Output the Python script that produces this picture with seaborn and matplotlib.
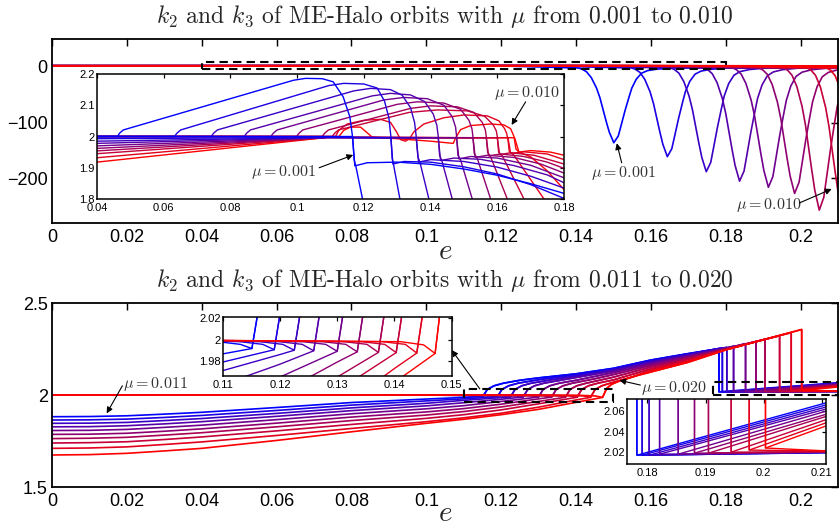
import matplotlib
matplotlib.use("Agg")
import matplotlib.pyplot as plt
from matplotlib.patches import Rectangle
from matplotlib.ticker import FixedLocator, FixedFormatter
import seaborn as sns

# ---------------------------------------------------------------- data
MU_TOP = [0.001, 0.002, 0.003, 0.004, 0.005, 0.006, 0.007, 0.008, 0.009, 0.010]
MU_BOT = [0.011, 0.012, 0.013, 0.014, 0.015, 0.016, 0.017, 0.018, 0.019, 0.020]

# top panel: k2 "hump" branch (e, k) down to the 1.8 crossing
TOP_HUMP = [
    [(0, 2.0), (0.0461, 2.0), (0.0468, 2.011), (0.0479, 2.021), (0.0989, 2.180), (0.1025, 2.186), (0.1075, 2.185),
     (0.1108, 2.175), (0.1138, 2.127), (0.1158, 2.063), (0.1166, 2.0), (0.1171, 1.925), (0.1176, 1.905), (0.1196, 1.80)],
    [(0, 2.0), (0.0632, 2.0), (0.0640, 2.011), (0.0651, 2.021), (0.1095, 2.163), (0.1140, 2.170), (0.1200, 2.168),
     (0.1240, 2.155), (0.1262, 2.113), (0.1275, 2.06), (0.1281, 2.0), (0.1285, 1.93), (0.1289, 1.91), (0.1308, 1.80)],
    [(0, 2.0), (0.0742, 2.0), (0.0750, 2.011), (0.0761, 2.021), (0.117, 2.146), (0.122, 2.154), (0.128, 2.150),
     (0.1315, 2.132), (0.1340, 2.092), (0.1352, 2.045), (0.1357, 2.0), (0.1362, 1.935), (0.1368, 1.918), (0.1395, 1.80)],
    [(0, 2.0), (0.0841, 2.0), (0.0849, 2.011), (0.0860, 2.021), (0.1225, 2.130), (0.128, 2.138), (0.134, 2.133),
     (0.1382, 2.112), (0.1408, 2.072), (0.1419, 2.035), (0.1423, 2.0), (0.1427, 1.94), (0.1434, 1.922), (0.1465, 1.80)],
    [(0, 2.0), (0.0921, 2.0), (0.0929, 2.011), (0.0940, 2.021), (0.126, 2.117), (0.132, 2.125), (0.139, 2.121),
     (0.1440, 2.100), (0.1465, 2.063), (0.1475, 2.03), (0.1478, 2.0), (0.1482, 1.94), (0.1490, 1.925), (0.1525, 1.80)],
    [(0, 2.0), (0.0998, 2.0), (0.1006, 2.011), (0.1017, 2.021), (0.1300, 2.103), (0.136, 2.111), (0.144, 2.107),
     (0.1490, 2.087), (0.1515, 2.052), (0.1524, 2.025), (0.1527, 2.0), (0.1531, 1.945), (0.1540, 1.93), (0.1580, 1.80)],
    [(0, 2.0), (0.1075, 2.0), (0.1083, 2.011), (0.1094, 2.021), (0.1340, 2.090), (0.140, 2.098), (0.148, 2.095),
     (0.1530, 2.077), (0.1555, 2.045), (0.1564, 2.022), (0.1567, 2.0), (0.1571, 1.95), (0.1580, 1.935), (0.1630, 1.80)],
    [(0, 2.0), (0.1105, 2.0), (0.1113, 2.011), (0.1124, 2.021), (0.1335, 2.077), (0.142, 2.085), (0.151, 2.082),
     (0.1562, 2.065), (0.1588, 2.037), (0.1597, 2.018), (0.1600, 2.0), (0.1604, 1.95), (0.1615, 1.938), (0.1680, 1.80)],
    [(0, 2.0), (0.1115, 2.0), (0.1125, 2.02), (0.1150, 2.040), (0.1200, 2.052), (0.1250, 2.055), (0.1280, 2.045),
     (0.1298, 2.015), (0.1310, 1.990), (0.1325, 1.985), (0.1338, 1.995), (0.1350, 2.015), (0.1380, 2.040),
     (0.1440, 2.060), (0.1500, 2.069), (0.1570, 2.066), (0.1605, 2.050), (0.1622, 2.025), (0.1628, 2.01),
     (0.1632, 1.99), (0.1636, 1.952), (0.1650, 1.94), (0.1740, 1.80)],
    [(0, 2.0), (0.1125, 2.0), (0.1140, 2.020), (0.1160, 2.030), (0.1190, 2.030), (0.1210, 2.012), (0.1225, 1.998),
     (0.1300, 1.993), (0.1400, 1.985), (0.1468, 1.978), (0.1475, 1.995), (0.1490, 2.022), (0.1520, 2.035),
     (0.1580, 2.040), (0.1620, 2.037), (0.1640, 2.025), (0.1650, 2.0), (0.1656, 1.96), (0.1665, 1.950),
     (0.1700, 1.935), (0.1750, 1.89), (0.1800, 1.83), (0.1830, 1.80)],
]

# top panel: deep valleys of the same branch (main axes scale)
TOP_VALLEY_E = [
    [0.1406, 0.1416, 0.1428, 0.1441, 0.1455, 0.1464, 0.1473, 0.1481, 0.1489, 0.1501, 0.1513, 0.1521, 0.1531, 0.1541, 0.1549, 0.1561, 0.1575, 0.1591, 0.1616, 0.1661, 0.215],
    [0.1549, 0.1559, 0.1571, 0.1584, 0.1598, 0.1607, 0.1616, 0.1624, 0.1632, 0.1644, 0.1656, 0.1664, 0.1674, 0.1684, 0.1692, 0.1704, 0.1718, 0.1734, 0.1759, 0.1804, 0.215],
    [0.1653, 0.1663, 0.1675, 0.1688, 0.1702, 0.1711, 0.1720, 0.1728, 0.1736, 0.1748, 0.1760, 0.1768, 0.1778, 0.1788, 0.1796, 0.1808, 0.1822, 0.1838, 0.1863, 0.1908, 0.215],
    [0.1742, 0.1752, 0.1764, 0.1777, 0.1791, 0.1800, 0.1809, 0.1817, 0.1825, 0.1837, 0.1849, 0.1857, 0.1867, 0.1877, 0.1885, 0.1897, 0.1911, 0.1927, 0.1952, 0.1997, 0.215],
    [0.1819, 0.1829, 0.1841, 0.1854, 0.1868, 0.1877, 0.1886, 0.1894, 0.1902, 0.1914, 0.1926, 0.1934, 0.1944, 0.1954, 0.1962, 0.1974, 0.1988, 0.2004, 0.2029, 0.2074, 0.215],
    [0.1889, 0.1899, 0.1911, 0.1924, 0.1938, 0.1947, 0.1956, 0.1964, 0.1972, 0.1984, 0.1996, 0.2004, 0.2014, 0.2024, 0.2032, 0.2044, 0.2058, 0.2074, 0.2099, 0.2144],
    [0.1955, 0.1965, 0.1977, 0.1990, 0.2004, 0.2013, 0.2022, 0.2030, 0.2038, 0.2050, 0.2062, 0.2070, 0.2080, 0.2090, 0.2098, 0.2110, 0.2124, 0.2140, 0.2165],
    [0.2018, 0.2028, 0.2040, 0.2053, 0.2067, 0.2076, 0.2085, 0.2093, 0.2101, 0.2113, 0.2125],
    [0.2070, 0.2080, 0.2092, 0.2105, 0.2119, 0.2128, 0.2137],
    [0.2120, 0.2130, 0.2142],
]
TOP_VALLEY_K = [
    [-2, -4, -8.7, -19.4, -38.2, -55.6, -78.4, -98.5, -117.2, -136, -123.9, -103.8, -78.4, -55.6, -38.2, -22.1, -11.4, -6.7, -4, -2, -2.5],
    [-2, -4.4, -10, -22.7, -44.9, -65.6, -92.6, -116.5, -138.7, -161, -146.7, -122.8, -92.6, -65.6, -44.9, -25.9, -13.1, -7.6, -4.4, -2, -2.5],
    [-2, -4.8, -11.3, -26.2, -52.2, -76.4, -108, -135.9, -162, -188, -171.3, -143.4, -108, -76.4, -52.2, -29.9, -15, -8.5, -4.8, -2, -2.5],
    [-2, -5, -12.2, -28.4, -56.8, -83.2, -117.7, -148.2, -176.6, -205, -186.7, -156.3, -117.7, -83.2, -56.8, -32.5, -16.2, -9.1, -5, -2, -2.5],
    [-2, -5.2, -12.7, -29.8, -59.8, -87.6, -124, -156.1, -186, -216, -196.7, -164.6, -124, -87.6, -59.8, -34.1, -17, -9.5, -5.2, -2, -2.5],
    [-2, -5.4, -13.3, -31.3, -62.8, -92, -130.3, -164, -195.5, -227, -206.8, -173, -130.3, -92, -62.8, -35.8, -17.8, -9.9, -5.4, -2],
    [-2, -5.8, -14.8, -35.2, -70.9, -104, -147.4, -185.6, -221.3, -257, -234, -195.8, -147.4, -104, -70.9, -40.3, -19.9, -10.9, -5.8],
    [-2, -5.9, -15.2, -36.2, -73, -107.2, -151.9, -191.4, -228.2, -265, -241.3],
    [-2, -6, -15.4, -36.8, -74.4, -109.2, -154.8],
    [-2, -6.1, -15.7],
]

# top panel: k3 branch
TOP_FAN_K040 = [2.0, 1.993, 1.985, 1.978, 1.970, 1.962, 1.954, 1.945, 1.932, 1.918]
TOP_FAN_CONV_E = [0.100, 0.109, 0.109, 0.109, 0.109, 0.109, 0.109, 0.109, 0.109, 0.109]
TOP_FAN_CONV_K = [2.0, 1.997, 1.997, 1.997, 1.997, 1.997, 1.997, 1.997, 1.997, 1.997]
TOP_DROP_E = [0.1166, 0.1281, 0.1357, 0.1423, 0.1478, 0.1527, 0.1567, 0.1600, 0.1632, 0.1652]
TOP_DROP_K = [2.0, 1.996, 1.996, 1.996, 1.996, 1.996, 1.996, 1.996, 1.996, 1.996]
TOP_LOWER = [
    [(0.1173, 1.906), (0.121, 1.916), (0.130, 1.918), (0.140, 1.911), (0.150, 1.896), (0.160, 1.876), (0.170, 1.849), (0.180, 1.818), (0.21, 1.72)],
    [(0.1287, 1.912), (0.132, 1.920), (0.140, 1.918), (0.150, 1.903), (0.160, 1.880), (0.170, 1.846), (0.180, 1.802), (0.21, 1.66)],
    [(0.1364, 1.918), (0.140, 1.926), (0.150, 1.920), (0.160, 1.902), (0.170, 1.873), (0.180, 1.835), (0.21, 1.70)],
    [(0.1430, 1.923), (0.147, 1.931), (0.155, 1.927), (0.165, 1.907), (0.175, 1.877), (0.180, 1.852), (0.21, 1.73)],
    [(0.1485, 1.928), (0.152, 1.936), (0.160, 1.931), (0.170, 1.908), (0.180, 1.868), (0.21, 1.75)],
    [(0.1534, 1.933), (0.157, 1.940), (0.165, 1.933), (0.173, 1.912), (0.180, 1.883), (0.21, 1.77)],
    [(0.1574, 1.938), (0.161, 1.944), (0.168, 1.936), (0.175, 1.918), (0.180, 1.898), (0.21, 1.79)],
    [(0.1607, 1.942), (0.164, 1.948), (0.171, 1.940), (0.180, 1.912), (0.21, 1.81)],
    [(0.1640, 1.946), (0.168, 1.951), (0.175, 1.944), (0.180, 1.926), (0.21, 1.83)],
    [(0.1665, 1.950), (0.170, 1.955), (0.176, 1.950), (0.180, 1.940), (0.21, 1.86)],
]

# bottom panel
BOT_E_GRID = [0, 0.01, 0.02, 0.03, 0.04, 0.06, 0.08, 0.10, 0.11, 0.12, 0.13, 0.14]
BOT_K3 = [
    [1.882, 1.883, 1.887, 1.896, 1.906, 1.932, 1.959, 1.978, 1.9866, None, None, None],
    [1.864, 1.865, 1.869, 1.878, 1.889, 1.916, 1.945, 1.968, 1.979, None, None, None],
    [1.846, 1.847, 1.851, 1.861, 1.872, 1.900, 1.930, 1.955, 1.971, 1.986, None, None],
    [1.827, 1.828, 1.833, 1.843, 1.855, 1.884, 1.915, 1.941, 1.958, 1.977, None, None],
    [1.807, 1.808, 1.813, 1.824, 1.836, 1.866, 1.898, 1.925, 1.942, 1.965, None, None],
    [1.786, 1.787, 1.792, 1.803, 1.816, 1.847, 1.880, 1.908, 1.926, 1.950, 1.979, None],
    [1.763, 1.765, 1.770, 1.782, 1.795, 1.827, 1.861, 1.891, 1.910, 1.935, 1.965, None],
    [1.739, 1.741, 1.746, 1.758, 1.772, 1.805, 1.840, 1.873, 1.893, 1.919, 1.952, None],
    [1.710, 1.712, 1.718, 1.731, 1.745, 1.780, 1.818, 1.855, 1.876, 1.901, 1.934, 1.973],
    [1.674, 1.676, 1.683, 1.696, 1.710, 1.753, 1.800, 1.846, 1.868, 1.893, 1.922, 1.960],
]
BOT_MEET_E = [0.1151, 0.1190, 0.1225, 0.1259, 0.1300, 0.1335, 0.1372, 0.1403, 0.1439, 0.1471]
BOT_MEET_K = [1.9916, 1.9905, 1.9900, 1.9895, 1.9890, 1.9885, 1.9880, 1.9878, 1.9874, 1.9870]
BOT_K2_START = [2.0, 2.0, 2.0, 2.0, 2.0, 2.0, 2.0, 2.0, 2.0, 2.0]
BOT_K2_PRE = [
    [(0.10, 1.9995), (0.1091, 1.998), (0.1131, 1.9955)],
    [(0.10, 1.9995), (0.1130, 1.998), (0.1170, 1.9955)],
    [(0.10, 1.9995), (0.1165, 1.998), (0.1205, 1.9955)],
    [(0.10, 1.9995), (0.1199, 1.998), (0.1239, 1.9955)],
    [(0.10, 1.9995), (0.1240, 1.998), (0.1280, 1.9955)],
    [(0.10, 1.9995), (0.1275, 1.998), (0.1315, 1.9955)],
    [(0.10, 1.9995), (0.1312, 1.998), (0.1352, 1.9955)],
    [(0.10, 1.9995), (0.1343, 1.998), (0.1383, 1.9955)],
    [(0.10, 1.9995), (0.1379, 1.998), (0.1419, 1.9955)],
    [(0.10, 1.9995), (0.1411, 1.998), (0.1451, 1.995)],
]
BOT_UP = [
    [(0.1163, 2.030), (0.1181, 2.050), (0.1206, 2.064), (0.125, 2.080), (0.13, 2.093), (0.14, 2.115), (0.15, 2.145), (0.16, 2.190), (0.17, 2.225)],
    [(0.1202, 2.030), (0.1220, 2.050), (0.1245, 2.064), (0.13, 2.083), (0.14, 2.110), (0.15, 2.141), (0.16, 2.186), (0.17, 2.222)],
    [(0.1237, 2.030), (0.1255, 2.050), (0.1280, 2.064), (0.1330, 2.081), (0.14, 2.103), (0.15, 2.137), (0.16, 2.182), (0.17, 2.220)],
    [(0.1271, 2.030), (0.1289, 2.050), (0.1314, 2.064), (0.14, 2.095), (0.15, 2.131), (0.16, 2.176), (0.17, 2.216), (0.18, 2.255)],
    [(0.1312, 2.030), (0.1330, 2.050), (0.1355, 2.064), (0.14, 2.080), (0.15, 2.122), (0.16, 2.169), (0.17, 2.211), (0.18, 2.253)],
    [(0.1347, 2.030), (0.1365, 2.050), (0.1390, 2.064), (0.145, 2.088), (0.15, 2.111), (0.16, 2.161), (0.17, 2.206), (0.18, 2.251)],
    [(0.1384, 2.030), (0.1402, 2.050), (0.1427, 2.064), (0.15, 2.097), (0.16, 2.152), (0.17, 2.200), (0.18, 2.249)],
    [(0.1415, 2.030), (0.1433, 2.050), (0.1458, 2.064), (0.15, 2.082), (0.16, 2.142), (0.17, 2.193), (0.18, 2.247), (0.19, 2.300)],
    [(0.1451, 2.030), (0.1469, 2.050), (0.1494, 2.066), (0.155, 2.098), (0.16, 2.134), (0.17, 2.186), (0.18, 2.246), (0.19, 2.300)],
    [(0.1482, 2.036), (0.1495, 2.058), (0.1517, 2.077), (0.1562, 2.105), (0.16, 2.125), (0.17, 2.178), (0.18, 2.245), (0.19, 2.300)],
]
BOT_DROP_E = [0.1782, 0.1791, 0.1803, 0.1821, 0.1853, 0.1881, 0.1905, 0.1944, 0.1975, 0.2003]
BOT_DROP_TOP = [2.252, 2.256, 2.259, 2.265, 2.279, 2.291, 2.303, 2.322, 2.339, 2.356]
BOT_DROP_LOW = [2.017, 2.017, 2.017, 2.018, 2.018, 2.019, 2.019, 2.020, 2.022, 2.024]
BOT_FLAT_END = [2.0195, 2.0195, 2.0198, 2.020, 2.020, 2.0202, 2.0205, 2.0205, 2.021, 2.021]
BOT_RISE_END = [2.069, 2.067, 2.065, 2.063, 2.061, 2.058, 2.056, 2.053, 2.050, 2.047]
E_END = 0.2115

# ticks
MAIN_XTICKS = [0, 0.02, 0.04, 0.06, 0.08, 0.10, 0.12, 0.14, 0.16, 0.18, 0.20]
MAIN_XLABELS = ["0", "0.02", "0.04", "0.06", "0.08", "0.1", "0.12", "0.14", "0.16", "0.18", "0.2"]
TOP_YTICKS = [-200, -100, 0]
TOP_YLABELS = ["\u2212200", "\u2212100", "0"]
BOT_YTICKS = [1.5, 2.0, 2.5]
BOT_YLABELS = ["1.5", "2", "2.5"]
INT_XTICKS = [0.04, 0.06, 0.08, 0.10, 0.12, 0.14, 0.16, 0.18]
INT_XLABELS = ["0.04", "0.06", "0.08", "0.1", "0.12", "0.14", "0.16", "0.18"]
INT_YTICKS = [1.8, 1.9, 2.0, 2.1, 2.2]
INT_YLABELS = ["1.8", "1.9", "2", "2.1", "2.2"]
IN1_XTICKS = [0.11, 0.12, 0.13, 0.14, 0.15]
IN1_XLABELS = ["0.11", "0.12", "0.13", "0.14", "0.15"]
IN1_YTICKS = [1.98, 2.0, 2.02]
IN1_YLABELS = ["1.98", "2", "2.02"]
IN2_XTICKS = [0.18, 0.19, 0.20, 0.21]
IN2_XLABELS = ["0.18", "0.19", "0.2", "0.21"]
IN2_YTICKS = [2.02, 2.04, 2.06]
IN2_YLABELS = ["2.02", "2.04", "2.06"]

TITLE_TOP = r"$k_2$ and $k_3$ of ME-Halo orbits with $\mu$ from 0.001 to 0.010"
TITLE_BOT = r"$k_2$ and $k_3$ of ME-Halo orbits with $\mu$ from 0.011 to 0.020"

# ---------------------------------------------------------------- style
sns.set_style("white")
plt.rcParams.update({
    "font.family": ["Liberation Sans", "DejaVu Sans"],
    "mathtext.fontset": "cm",
    "axes.unicode_minus": True,
    "axes.formatter.use_mathtext": True,
})

W, H = 839, 527
fig = plt.figure(figsize=(W / 100, H / 100), dpi=100)


def px_axes(x0, y0, x1, y1):
    return fig.add_axes([x0 / W, 1 - y1 / H, (x1 - x0) / W, (y1 - y0) / H])


def color(i):
    t = i / 9.0
    return (t, 0.0, 1.0 - t)


def draw(ax, pts, c, lw=1.0, z=2):
    xs = [p[0] for p in pts]
    ys = [p[1] for p in pts]
    sns.lineplot(x=xs, y=ys, ax=ax, sort=False, estimator=None, color=c,
                 linewidth=lw, zorder=z, legend=False)


def style_axes(ax, xt, xl, yt, yl, fs, tl, lw, xpad, ypad):
    ax.xaxis.set_major_locator(FixedLocator(xt))
    ax.xaxis.set_major_formatter(FixedFormatter(xl))
    ax.yaxis.set_major_locator(FixedLocator(yt))
    ax.yaxis.set_major_formatter(FixedFormatter(yl))
    ax.tick_params(direction="in", top=True, right=True, length=tl, width=lw * 0.8,
                   labelsize=fs, colors="black")
    ax.tick_params(axis="x", pad=xpad)
    ax.tick_params(axis="y", pad=ypad)
    for s in ax.spines.values():
        s.set_linewidth(lw)
        s.set_color("black")
        s.set_visible(True)
    ax.set_facecolor("white")
    ax.grid(False)
    ax.set_xlabel("")
    ax.set_ylabel("")


# curve builders
top_k2 = [TOP_HUMP[i] + list(zip(TOP_VALLEY_E[i], TOP_VALLEY_K[i])) for i in range(10)]
top_k3 = [[(0, TOP_FAN_K040[i]), (0.04, TOP_FAN_K040[i]), (TOP_FAN_CONV_E[i], TOP_FAN_CONV_K[i]),
           (TOP_DROP_E[i], TOP_DROP_K[i])] + TOP_LOWER[i] for i in range(10)]

bot_k3, bot_k2 = [], []
for i in range(10):
    head = [(e, k) for e, k in zip(BOT_E_GRID, BOT_K3[i]) if k is not None]
    meet = [(BOT_MEET_E[i], BOT_MEET_K[i])]
    up = BOT_UP[i] + [(BOT_DROP_E[i], BOT_DROP_TOP[i]), (BOT_DROP_E[i], BOT_DROP_LOW[i])]
    bot_k3.append(head + meet + up + [(E_END, BOT_RISE_END[i])])
    bot_k2.append([(0, BOT_K2_START[i])] + BOT_K2_PRE[i] + meet + up + [(E_END, BOT_FLAT_END[i])])

arrow = dict(arrowstyle="-|>", color="black", lw=0.8, mutation_scale=9, shrinkA=0, shrinkB=0)
lab = dict(fontsize=11.5, ha="center", va="center", color="#333333")
MAIN_LW = 1.2

# ---------------------------------------------------------------- top panel
ax_t = px_axes(52, 39, 838, 223)
for i in range(10):
    draw(ax_t, top_k3[i], color(i), lw=MAIN_LW, z=2 + i * 0.01)
    draw(ax_t, top_k2[i], color(i), lw=MAIN_LW, z=2 + i * 0.01)
ax_t.set_xlim(0, 0.21)
ax_t.set_ylim(-280, 50)
style_axes(ax_t, MAIN_XTICKS, MAIN_XLABELS, TOP_YTICKS, TOP_YLABELS, 13, 5, 1.3, 4, 3)
ax_t.add_patch(Rectangle((0.04, -4.5), 0.14, 13, fill=False, edgecolor="black",
                         linestyle=(0, (4, 2.5)), linewidth=1.5, zorder=5))
ax_t.text(0.1527, -191, r"$\mu = 0.001$", **lab)
ax_t.annotate("", xy=(0.1509, -137), xytext=(0.1522, -172), arrowprops=arrow)
ax_t.text(0.1915, -248, r"$\mu = 0.010$", **lab)
ax_t.annotate("", xy=(0.2083, -219), xytext=(0.1997, -244), arrowprops=arrow)

# top inset
ax_ti = px_axes(97, 74, 564, 199)
for i in reversed(range(10)):
    draw(ax_ti, top_k2[i], color(i), lw=1.0, z=2 + (9 - i) * 0.01)
    draw(ax_ti, top_k3[i], color(i), lw=1.0, z=2 + (9 - i) * 0.01)
ax_ti.set_xlim(0.04, 0.18)
ax_ti.set_ylim(1.8, 2.2)
style_axes(ax_ti, INT_XTICKS, INT_XLABELS, INT_YTICKS, INT_YLABELS, 8, 3, 1.1, 3, 1.5)
ax_ti.text(0.1688, 2.138, r"$\mu = 0.010$", **lab)
ax_ti.annotate("", xy=(0.1643, 2.037), xytext=(0.1685, 2.111), arrowprops=arrow)
ax_ti.text(0.0958, 1.887, r"$\mu = 0.001$", **lab)
ax_ti.annotate("", xy=(0.1168, 1.941), xytext=(0.1066, 1.900), arrowprops=arrow)

# ---------------------------------------------------------------- bottom panel
ax_b = px_axes(52, 303, 838, 487)
for i in range(10):
    draw(ax_b, bot_k3[i], color(i), lw=MAIN_LW, z=2 + i * 0.01)
for i in range(10):
    draw(ax_b, bot_k2[i], color(i), lw=MAIN_LW, z=2.2 + i * 0.01)
ax_b.set_xlim(0, 0.21)
ax_b.set_ylim(1.5, 2.5)
style_axes(ax_b, MAIN_XTICKS, MAIN_XLABELS, BOT_YTICKS, BOT_YLABELS, 13, 5, 1.3, 4, 3)
ax_b.add_patch(Rectangle((0.11, 1.96), 0.04, 0.07, fill=False, edgecolor="black",
                         linestyle=(0, (4, 2.5)), linewidth=1.5, zorder=5))
ax_b.add_patch(Rectangle((0.1765, 2.0), 0.034, 0.071, fill=False, edgecolor="black",
                         linestyle=(0, (4, 2.5)), linewidth=1.5, zorder=5, clip_on=False))
ax_b.text(0.0275, 2.058, r"$\mu = 0.011$", **lab)
ax_b.annotate("", xy=(0.0146, 1.900), xytext=(0.0188, 2.050), arrowprops=arrow)
ax_b.text(0.1662, 2.040, r"$\mu = 0.020$", **lab)
ax_b.annotate("", xy=(0.1516, 2.080), xytext=(0.1572, 2.054), arrowprops=arrow)

# bottom inset 1
ax_b1 = px_axes(222.7, 317, 451.7, 376)
for i in range(10):
    draw(ax_b1, bot_k3[i], color(i), lw=1.0, z=2 + i * 0.01)
for i in range(10):
    draw(ax_b1, bot_k2[i], color(i), lw=1.0, z=2.2 + i * 0.01)
ax_b1.set_xlim(0.11, 0.15)
ax_b1.set_ylim(1.966, 2.021)
style_axes(ax_b1, IN1_XTICKS, IN1_XLABELS, IN1_YTICKS, IN1_YLABELS, 8, 3, 1.1, 3, 1.5)
ax_b1.annotate("", xy=(1.0, 0.44), xycoords="axes fraction", xytext=(0.1143, 2.033),
               textcoords=ax_b.transData, arrowprops=arrow, annotation_clip=False)

# bottom inset 2
ax_b2 = px_axes(627, 399, 826, 464)
for i in range(10):
    draw(ax_b2, bot_k3[i], color(i), lw=1.0, z=2 + i * 0.01)
for i in range(10):
    draw(ax_b2, bot_k2[i], color(i), lw=1.0, z=2.2 + i * 0.01)
ax_b2.set_xlim(0.1765, 0.2107)
ax_b2.set_ylim(2.0085, 2.0715)
style_axes(ax_b2, IN2_XTICKS, IN2_XLABELS, IN2_YTICKS, IN2_YLABELS, 8, 3, 1.1, 3, 1.5)

# ---------------------------------------------------------------- titles / labels
title_kw = dict(fontsize=17, ha="center", va="baseline", family="cmr10")
fig.text(445 / W, 1 - 23 / H, TITLE_TOP, **title_kw)
fig.text(445 / W, 1 - 287 / H, TITLE_BOT, **title_kw)
fig.text(445 / W, 1 - 259 / H, r"$e$", fontsize=21, ha="center", va="baseline")
fig.text(445 / W, 1 - 521 / H, r"$e$", fontsize=21, ha="center", va="baseline")

fig.savefig("out.png", dpi=100)
